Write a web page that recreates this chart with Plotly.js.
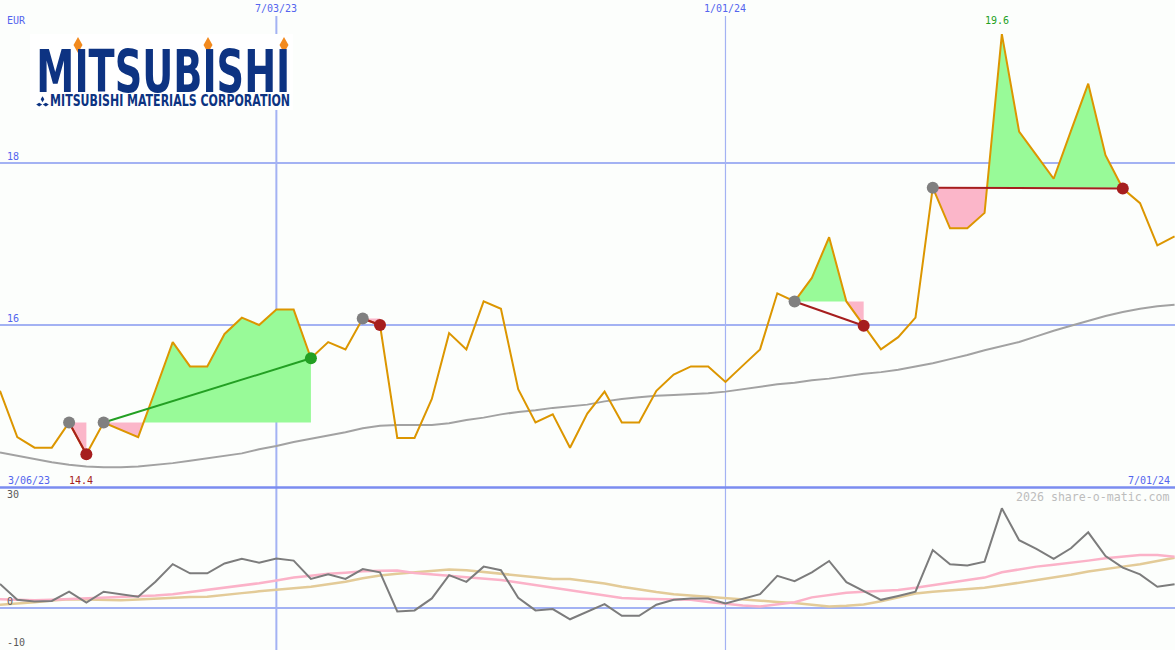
<!DOCTYPE html>
<html>
<head>
<meta charset="utf-8">
<script src="https://cdn.plot.ly/plotly-3.0.1.min.js"></script>
<style>
  html, body { margin: 0; padding: 0; background: #fcfefc; }
  #chart { width: 1175px; height: 650px; }
</style>
</head>
<body>
<div id="chart"></div>
<script>
// ---------------- data (weekly, Mondays) ----------------
const dates = [
  '2023-03-13','2023-03-20','2023-03-27','2023-04-03','2023-04-10','2023-04-17','2023-04-24',
  '2023-05-01','2023-05-08','2023-05-15','2023-05-22','2023-05-29','2023-06-05','2023-06-12',
  '2023-06-19','2023-06-26','2023-07-03','2023-07-10','2023-07-17','2023-07-24','2023-07-31',
  '2023-08-07','2023-08-14','2023-08-21','2023-08-28','2023-09-04','2023-09-11','2023-09-18',
  '2023-09-25','2023-10-02','2023-10-09','2023-10-16','2023-10-23','2023-10-30','2023-11-06',
  '2023-11-13','2023-11-20','2023-11-27','2023-12-04','2023-12-11','2023-12-18','2023-12-25',
  '2024-01-01','2024-01-08','2024-01-15','2024-01-22','2024-01-29','2024-02-05','2024-02-12',
  '2024-02-19','2024-02-26','2024-03-04','2024-03-11','2024-03-18','2024-03-25','2024-04-01',
  '2024-04-08','2024-04-15','2024-04-22','2024-04-29','2024-05-06','2024-05-13','2024-05-20',
  '2024-05-27','2024-06-03','2024-06-10','2024-06-17','2024-06-24','2024-07-01'
];

const price = [
  15.19, 14.62, 14.49, 14.49, 14.80, 14.41, 14.80, 14.71, 14.62, 15.20,
  15.79, 15.49, 15.49, 15.89, 16.09, 16.00, 16.19, 16.19, 15.59, 15.79,
  15.70, 16.08, 16.00, 14.61, 14.61, 15.09, 15.90, 15.70, 16.29, 16.20,
  15.21, 14.80, 14.90, 14.49, 14.91, 15.18, 14.80, 14.80, 15.19, 15.39,
  15.49, 15.49, 15.30, 15.50, 15.70, 16.39, 16.29, 16.58, 17.08, 16.29,
  15.99, 15.70, 15.85, 16.09, 17.69, 17.19, 17.19, 17.38, 19.58, 18.38,
  18.09, 17.80, 18.39, 18.97, 18.09, 17.68, 17.50, 16.98, 17.09
];

const priceAverage = [
  14.43, 14.39, 14.35, 14.31, 14.28, 14.26, 14.25, 14.25, 14.26, 14.28,
  14.30, 14.33, 14.36, 14.39, 14.42, 14.47, 14.51, 14.56, 14.60, 14.64,
  14.68, 14.73, 14.76, 14.77, 14.77, 14.77, 14.79, 14.83, 14.86, 14.90,
  14.93, 14.95, 14.98, 15.00, 15.02, 15.06, 15.09, 15.11, 15.13, 15.14,
  15.15, 15.16, 15.18, 15.21, 15.24, 15.27, 15.29, 15.32, 15.34, 15.37,
  15.40, 15.42, 15.45, 15.49, 15.53, 15.58, 15.63, 15.69, 15.74, 15.79,
  15.86, 15.93, 15.99, 16.05, 16.11, 16.16, 16.20, 16.23, 16.25
];

const momentum = [
  6.7, 2.2, 1.7, 1.9, 4.5, 1.4, 4.5, 3.9, 3.1, 7.3,
  12.3, 9.7, 9.7, 12.5, 13.8, 12.7, 13.9, 13.3, 8.1, 9.4,
  8.1, 10.9, 10.0, -1.1, -0.8, 2.6, 9.2, 7.3, 11.6, 10.6,
  2.8, -0.8, -0.4, -3.3, -1.1, 1.0, -2.3, -2.3, 0.8, 2.2,
  2.6, 2.6, 1.2, 2.6, 3.8, 9.0, 7.5, 10.0, 13.2, 7.2,
  4.7, 2.2, 3.3, 4.5, 16.3, 12.3, 11.9, 13.0, 28.1, 19.1,
  16.6, 13.8, 16.8, 21.3, 14.6, 11.3, 9.4, 5.9, 6.6
];

const momentumPink = [
  2.4, 2.2, 2.1, 2.2, 2.4, 2.7, 2.9, 3.0, 3.1, 3.4,
  3.8, 4.4, 4.9, 5.6, 6.2, 6.9, 7.7, 8.5, 9.0, 9.6,
  9.9, 10.3, 10.4, 10.5, 9.8, 9.3, 9.0, 8.6, 8.2, 7.8,
  7.1, 6.4, 5.5, 4.8, 4.2, 3.5, 2.7, 2.5, 2.4, 2.3,
  2.2, 1.6, 1.0, 0.6, 0.3, 0.8, 1.5, 2.9, 3.5, 4.2,
  4.5, 4.8, 5.0, 5.6, 6.3, 7.0, 7.7, 8.5, 10.0, 10.8,
  11.6, 12.1, 12.6, 13.3, 14.0, 14.4, 14.9, 14.9, 14.4
];

const momentumTan = [
  0.8, 1.1, 1.5, 2.0, 2.4, 2.3, 2.1, 2.1, 2.3, 2.6,
  2.8, 3.0, 3.1, 3.5, 4.1, 4.6, 5.0, 5.4, 5.9, 6.6,
  7.3, 8.3, 9.1, 9.6, 10.0, 10.4, 10.8, 10.6, 10.1, 9.5,
  8.9, 8.4, 8.1, 8.1, 7.5, 6.8, 5.9, 5.1, 4.4, 3.8,
  3.4, 3.0, 2.7, 2.3, 1.8, 1.6, 1.3, 0.8, 0.3, 0.5,
  0.9, 1.8, 3.0, 4.0, 4.5, 4.8, 5.1, 5.6, 6.3, 7.0,
  7.8, 8.6, 9.3, 10.2, 11.0, 11.6, 12.3, 13.2, 14.1
];

const signalStart  = ['2023-04-10', '2023-04-24', '2023-08-07', '2024-01-29', '2024-03-25'];
const signalEnd    = ['2023-04-17', '2023-07-17', '2023-08-14', '2024-02-26', '2024-06-10'];
const signalResult = ['loss', 'gain', 'loss', 'loss', 'loss'];

const dateTicks      = ['2023-07-03', '2024-01-01'];
const dateTickLabels = ['7/03/23', '1/01/24'];
const firstDateLabel = '3/06/23';
const lastDateLabel  = '7/01/24';
const priceTicks     = [16, 18];
const momentumTicks  = [30, 0, -10];
const currency       = 'EUR';
const watermark      = '2026 share-o-matic.com';
const logoName       = 'MITSUBISHI';
const logoSub        = 'MITSUBISHI MATERIALS CORPORATION';

// ---------------- styling ----------------
const W = 1175, H = 650;
const BG = '#fcfefc';
const GRID = '#a3b2f3';
const BORDER = '#7b8cf0';
const LABEL_BLUE = '#5465ee';
const ORANGE = '#dc9600';
const GREEN_FILL = '#98fa98';
const PINK_FILL = '#fbb6c9';
const GAIN = '#23a023';
const LOSS = '#a61e1e';
const NAVY = '#0d3382';
const MONO = 'DejaVu Sans Mono, Liberation Mono, monospace';
const LOGO_FONT = 'Liberation Sans Narrow, DejaVu Sans Condensed, Liberation Sans, sans-serif';

const toMs = s => new Date(s + 'T00:00:00Z').getTime();
const px = v => v / W;          // pixel -> paper x
const py = v => 1 - v / H;      // pixel -> paper y

const traces = [];

// fills for each signal
function regionPolygon(a, b, level, above) {
  const xs = [], ys = [];
  for (let k = a; k <= b; k++) {
    const p = price[k];
    xs.push(toMs(dates[k]));
    ys.push(above ? Math.max(p, level) : Math.min(p, level));
    if (k < b) {
      const q = price[k + 1];
      if ((p - level) * (q - level) < 0) {
        const f = (level - p) / (q - p);
        xs.push(toMs(dates[k]) + f * (toMs(dates[k + 1]) - toMs(dates[k])));
        ys.push(level);
      }
    }
  }
  xs.push(toMs(dates[b])); ys.push(level);
  xs.push(toMs(dates[a])); ys.push(level);
  return {xs, ys};
}

signalStart.forEach((s, i) => {
  const a = dates.indexOf(s), b = dates.indexOf(signalEnd[i]);
  const level = price[a];
  [[true, GREEN_FILL], [false, PINK_FILL]].forEach(([above, col]) => {
    const poly = regionPolygon(a, b, level, above);
    traces.push({
      type: 'scatter', mode: 'lines', x: poly.xs, y: poly.ys,
      fill: 'toself', fillcolor: col, line: {width: 0, color: col},
      hoverinfo: 'skip', showlegend: false, xaxis: 'x', yaxis: 'y'
    });
  });
});

// long moving average
traces.push({
  type: 'scatter', mode: 'lines', x: dates, y: priceAverage,
  line: {color: '#a2a2a2', width: 2}, hoverinfo: 'skip', showlegend: false
});
// price
traces.push({
  type: 'scatter', mode: 'lines', x: dates, y: price,
  line: {color: ORANGE, width: 2}, hoverinfo: 'skip', showlegend: false
});
// signal connectors
signalStart.forEach((s, i) => {
  const a = dates.indexOf(s), b = dates.indexOf(signalEnd[i]);
  traces.push({
    type: 'scatter', mode: 'lines', x: [dates[a], dates[b]], y: [price[a], price[b]],
    line: {color: signalResult[i] === 'gain' ? GAIN : LOSS, width: 2},
    hoverinfo: 'skip', showlegend: false
  });
});
// signal dots
traces.push({
  type: 'scatter', mode: 'markers',
  x: signalStart, y: signalStart.map(s => price[dates.indexOf(s)]),
  marker: {color: '#808080', size: 12}, hoverinfo: 'skip', showlegend: false
});
traces.push({
  type: 'scatter', mode: 'markers',
  x: signalEnd, y: signalEnd.map(s => price[dates.indexOf(s)]),
  marker: {color: signalResult.map(r => r === 'gain' ? GAIN : LOSS), size: 12},
  hoverinfo: 'skip', showlegend: false
});

// lower panel
traces.push({type: 'scatter', mode: 'lines', x: dates, y: momentumTan, yaxis: 'y2',
  line: {color: '#e3cb98', width: 2.5}, hoverinfo: 'skip', showlegend: false});
traces.push({type: 'scatter', mode: 'lines', x: dates, y: momentumPink, yaxis: 'y2',
  line: {color: '#fbb2c8', width: 2.5}, hoverinfo: 'skip', showlegend: false});
traces.push({type: 'scatter', mode: 'lines', x: dates, y: momentum, yaxis: 'y2',
  line: {color: '#7c7c7c', width: 2}, hoverinfo: 'skip', showlegend: false});

// ---------------- annotations ----------------
const annotations = [];
const txt = (text, x, xref, y, yref, opts) => Object.assign({
  text, x, xref, y, yref, showarrow: false,
  font: {family: MONO, size: 10, color: LABEL_BLUE}, xanchor: 'left', yanchor: 'middle'
}, opts || {});

annotations.push(txt(currency, px(5), 'paper', py(20), 'paper'));
dateTicks.forEach((d, i) => annotations.push(txt(dateTickLabels[i], d, 'x', py(9), 'paper', {xanchor: 'center'})));
priceTicks.forEach(v => annotations.push(txt(String(v), px(5), 'paper', v, 'y', {yanchor: 'bottom', yshift: -1})));
annotations.push(txt(firstDateLabel, px(6), 'paper', py(480), 'paper'));
annotations.push(txt(lastDateLabel, px(1172), 'paper', py(480), 'paper', {xanchor: 'right'}));

const iMin = price.indexOf(Math.min(...price));
const iMax = price.indexOf(Math.max(...price));
annotations.push(txt(price[iMin].toFixed(1), dates[iMin], 'x', py(480), 'paper',
  {xanchor: 'center', xshift: -5, font: {family: MONO, size: 10, color: LOSS}}));
annotations.push(txt(price[iMax].toFixed(1), dates[iMax], 'x', py(21), 'paper',
  {xanchor: 'center', xshift: -5, font: {family: MONO, size: 10, color: GAIN}}));

momentumTicks.forEach(v => annotations.push(txt(String(v), px(5), 'paper', v, 'y2',
  {yanchor: 'bottom', yshift: v === -10 ? -7 : (v === 0 ? -1 : 0), font: {family: MONO, size: 10, color: '#5a5a5a'}})));
annotations.push(txt(watermark, px(1172), 'paper', py(496.5), 'paper',
  {xanchor: 'right', font: {family: MONO, size: 11.6, color: '#bdbdbd'}}));

// logo text (compressed horizontally after drawing)
annotations.push({
  text: logoName, xref: 'paper', yref: 'paper', x: px(163), y: py(72),
  xanchor: 'center', yanchor: 'middle', showarrow: false,
  font: {family: LOGO_FONT, size: 59, weight: 'bold', color: NAVY}
});
annotations.push({
  text: logoSub, xref: 'paper', yref: 'paper', x: px(170), y: py(101.5),
  xanchor: 'center', yanchor: 'middle', showarrow: false,
  font: {family: LOGO_FONT, size: 15, weight: 'bold', color: NAVY}
});

// ---------------- shapes ----------------
const shapes = [];
dateTicks.forEach((d, i) => shapes.push({
  type: 'line', xref: 'x', yref: 'paper', x0: d, x1: d, y0: 0, y1: py(16),
  line: {color: GRID, width: i === 0 ? 2 : 1.2}, layer: 'below'
}));
shapes.push({type: 'line', xref: 'paper', yref: 'paper', x0: 0, x1: 1, y0: 0.25, y1: 0.25,
  line: {color: BORDER, width: 2.5}, layer: 'above'});
// logo background
shapes.push({type: 'rect', xref: 'paper', yref: 'paper', x0: px(30), x1: px(293), y0: py(34), y1: py(110),
  fillcolor: '#ffffff', line: {width: 0}, layer: 'above'});
function diamondPath(cx, cy, w, h) {
  return `M ${px(cx)} ${py(cy - h / 2)} L ${px(cx + w / 2)} ${py(cy)} L ${px(cx)} ${py(cy + h / 2)} L ${px(cx - w / 2)} ${py(cy)} Z`;
}
[78, 208, 284].forEach(cx => shapes.push({
  type: 'path', xref: 'paper', yref: 'paper', path: diamondPath(cx, 45, 9, 16),
  fillcolor: '#f28a1e', line: {width: 0}, layer: 'above'
}));
[[42.5, 99.3, 3.6, 6], [39.2, 104.6, 6, 3.6], [45.8, 104.6, 6, 3.6]].forEach(d => shapes.push({
  type: 'path', xref: 'paper', yref: 'paper', path: diamondPath(d[0], d[1], d[2], d[3]),
  fillcolor: NAVY, line: {width: 0}, layer: 'above'
}));

const layout = {
  width: W, height: H,
  margin: {l: 0, r: 0, t: 0, b: 0, pad: 0},
  paper_bgcolor: BG, plot_bgcolor: BG,
  showlegend: false,
  xaxis: {type: 'date', range: ['2023-03-13', '2024-07-01 04:00'], showgrid: false,
          showticklabels: false, zeroline: false, showline: false, ticks: '', fixedrange: true},
  yaxis: {domain: [0.25, 1], range: [14, 20], tickvals: priceTicks, showgrid: true,
          gridcolor: GRID, gridwidth: 2, showticklabels: false, zeroline: false, ticks: ''},
  yaxis2: {domain: [0, 0.25], range: [-12, 34], tickvals: [0], showgrid: true,
          gridcolor: GRID, gridwidth: 2, showticklabels: false, zeroline: false, ticks: ''},
  annotations, shapes
};

const logoWidths = {};
logoWidths[logoName] = 254;
logoWidths[logoSub] = 240;

Plotly.newPlot('chart', traces, layout, {displayModeBar: false, staticPlot: true}).then(gd => {
  gd.querySelectorAll('text.annotation-text').forEach(t => {
    const w = logoWidths[t.textContent];
    if (w) {
      t.setAttribute('textLength', w);
      t.setAttribute('lengthAdjust', 'spacingAndGlyphs');
    }
  });
});
</script>
</body>
</html>
